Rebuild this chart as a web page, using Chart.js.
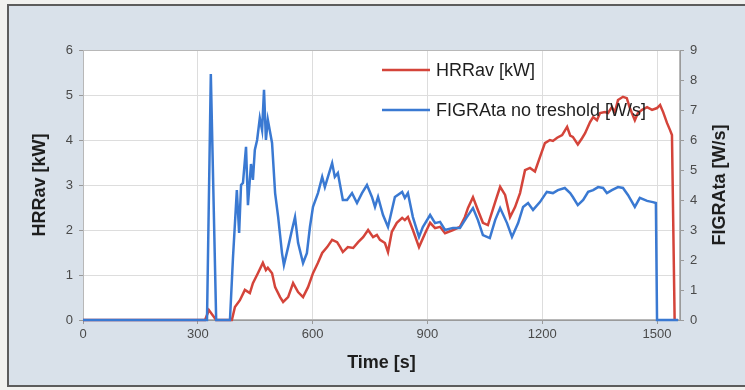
<!DOCTYPE html>
<html><head><meta charset="utf-8">
<script src="https://cdn.jsdelivr.net/npm/chart.js@4.4.0/dist/chart.umd.min.js"></script>
<style>html,body{margin:0;padding:0;background:#fff;overflow:hidden}</style>
</head><body>
<canvas id="c" width="745" height="390"></canvas>
<script>
// ---- data ----
const hrrTime = [0,319,329,348,389,397,410,423,436,444,457,470,478,483,494,502,515,523,536,549,562,575,588,601,614,625,638,651,664,672,679,692,706,719,732,745,758,768,776,789,797,807,820,834,841,849,862,878,894,907,920,933,946,967,985,998,1006,1019,1032,1045,1058,1077,1090,1103,1116,1129,1142,1155,1168,1181,1194,1207,1220,1228,1239,1252,1265,1273,1280,1293,1304,1312,1325,1333,1343,1351,1364,1372,1382,1390,1398,1411,1421,1429,1442,1450,1461,1474,1487,1500,1508,1516,1526,1534,1539,1546];
const hrrKW = [0,0,0.22,0,0,0.29,0.44,0.67,0.6,0.82,1.04,1.27,1.11,1.16,1.04,0.73,0.51,0.4,0.51,0.82,0.62,0.51,0.73,1.04,1.27,1.49,1.62,1.78,1.73,1.62,1.51,1.62,1.6,1.73,1.84,2.0,1.84,1.89,1.78,1.71,1.51,1.96,2.16,2.27,2.22,2.29,2.0,1.62,1.93,2.16,2.04,2.07,1.93,2.0,2.07,2.29,2.49,2.73,2.44,2.16,2.11,2.62,2.96,2.78,2.29,2.51,2.82,3.33,3.38,3.3,3.62,3.93,4.0,3.98,4.05,4.11,4.29,4.1,4.07,3.9,4.04,4.15,4.4,4.51,4.44,4.6,4.62,4.6,4.73,4.62,4.89,4.96,4.93,4.71,4.44,4.6,4.67,4.73,4.67,4.71,4.78,4.62,4.38,4.22,4.11,0];

const figraTime = [0,311,324,334,348,384,392,402,408,413,418,426,431,439,444,449,455,462,468,473,478,483,494,502,510,520,525,536,546,554,562,575,585,593,601,614,625,632,640,651,658,666,679,690,703,716,729,742,755,763,771,784,797,815,834,841,849,862,878,888,907,920,933,946,967,985,993,1003,1019,1032,1045,1063,1077,1090,1108,1121,1137,1150,1163,1176,1194,1212,1228,1241,1259,1273,1280,1293,1307,1320,1333,1346,1359,1369,1382,1398,1411,1424,1442,1455,1474,1489,1497,1500,1555];
const figraWs = [0,0,0,8.2,0,0,2.1,4.33,2.9,4.5,4.57,5.77,3.83,5.2,4.67,5.67,6.0,6.73,6.33,7.67,6.0,6.67,5.9,4.23,3.43,2.23,1.83,2.43,3.0,3.43,2.57,1.9,2.23,3.1,3.77,4.23,4.77,4.43,4.77,5.23,4.77,4.9,4.0,4.0,4.23,3.9,4.23,4.5,4.1,3.77,4.1,3.5,3.1,4.1,4.27,4.07,4.23,3.43,2.77,3.1,3.5,3.23,3.27,3.0,3.07,3.07,3.23,3.43,3.73,3.33,2.83,2.73,3.33,3.73,3.23,2.77,3.23,3.77,3.9,3.67,3.93,4.27,4.23,4.33,4.4,4.23,4.1,3.83,4.0,4.27,4.33,4.43,4.4,4.23,4.33,4.43,4.4,4.17,3.77,4.07,3.97,3.93,3.9,0,0];

const xTicks = [0,300,600,900,1200,1500];
const seriesLabels = ['HRRav [kW]', 'FIGRAta no treshold [W/s]'];
const xTitle = 'Time [s]';
const leftTitle = 'HRRav [kW]';
const rightTitle = 'FIGRAta [W/s]';

// ---- styling ----
const RED = '#d4443a', BLUE = '#3a79d2';
const FONT = '"Liberation Sans", Arial, sans-serif';
const zip = (xs, ys) => xs.slice(0, Math.min(xs.length, ys.length)).map((x, i) => ({x, y: ys[i]}));

const framePlugin = {
  id: 'frame',
  beforeDraw(chart) {
    const ctx = chart.ctx, a = chart.chartArea;
    ctx.save();
    ctx.fillStyle = '#f1f1ef'; ctx.fillRect(0, 0, 745, 390);
    ctx.fillStyle = '#d9e1ea'; ctx.fillRect(8, 5, 737, 381);
    ctx.strokeStyle = '#5c5c5c'; ctx.lineWidth = 2;
    ctx.beginPath(); ctx.moveTo(8, 387); ctx.lineTo(8, 5); ctx.lineTo(745, 5); ctx.stroke();
    ctx.beginPath(); ctx.moveTo(8, 386); ctx.lineTo(745, 386); ctx.stroke();
    ctx.fillStyle = '#ffffff'; ctx.fillRect(a.left, a.top, a.right - a.left, a.bottom - a.top);
    ctx.restore();
  },
  beforeDatasetsDraw(chart) {
    const ctx = chart.ctx, a = chart.chartArea;
    ctx.save();
    ctx.strokeStyle = '#b8b8b8'; ctx.lineWidth = 1;
    ctx.strokeRect(a.left + 0.5, a.top + 0.5, a.right - a.left - 1, a.bottom - a.top - 1);
    ctx.restore();
  },
  afterDatasetsDraw(chart) {
    const ctx = chart.ctx, a = chart.chartArea;
    ctx.save();
    // legend inside plot
    const items = [[seriesLabels[0], RED, 70], [seriesLabels[1], BLUE, 110]];
    ctx.font = '18px ' + FONT; ctx.textBaseline = 'middle'; ctx.textAlign = 'left';
    items.forEach(([t, c, y]) => {
      ctx.strokeStyle = c; ctx.lineWidth = 2.5;
      ctx.beginPath(); ctx.moveTo(382, y); ctx.lineTo(430, y); ctx.stroke();
      ctx.fillStyle = '#1e1e1e'; ctx.fillText(t, 436, y + 1);
    });
    // right axis title (reads bottom-to-top)
    ctx.translate(720, (a.top + a.bottom) / 2);
    ctx.rotate(-Math.PI / 2);
    ctx.font = 'bold 18px ' + FONT; ctx.textAlign = 'center'; ctx.fillStyle = '#1e1e1e';
    ctx.fillText(rightTitle, 0, 0);
    ctx.restore();
  }
};

const tickFont = {family: FONT, size: 13};
new Chart(document.getElementById('c'), {
  type: 'line',
  data: {
    datasets: [
      {label: seriesLabels[0], data: zip(hrrTime, hrrKW), yAxisID: 'y', borderColor: RED, borderWidth: 2.5, pointRadius: 0, tension: 0, order: 1, clip: 4},
      {label: seriesLabels[1], data: zip(figraTime, figraWs), yAxisID: 'y1', borderColor: BLUE, borderWidth: 2.5, pointRadius: 0, tension: 0, order: 0, clip: 4}
    ]
  },
  options: {
    responsive: false, animation: false, devicePixelRatio: 1,
    layout: {padding: {top: 50, left: 0, right: 0, bottom: 0}},
    plugins: {legend: {display: false}, tooltip: {enabled: false}},
    scales: {
      x: {
        type: 'linear', min: 0, max: 1560,
        afterBuildTicks: s => { s.ticks = xTicks.map(v => ({value: v})); },
        afterFit: s => { s.height = 70; },
        grid: {color: '#dddddd', tickLength: 4, tickColor: '#9a9a9a'},
        border: {color: '#9a9a9a'},
        ticks: {font: tickFont, color: '#4a4a4a', padding: 3, maxRotation: 0, callback: v => String(v)},
        title: {display: true, text: xTitle, font: {family: FONT, size: 18, weight: 'bold'}, color: '#1e1e1e', padding: {top: 4, bottom: 16}}
      },
      y: {
        position: 'left', min: 0, max: 6,
        afterFit: s => { s.width = 83; },
        grid: {color: '#dddddd', tickLength: 4, tickColor: '#9a9a9a'},
        border: {color: '#9a9a9a'},
        ticks: {stepSize: 1, font: tickFont, color: '#4a4a4a', padding: 6},
        title: {display: true, text: leftTitle, font: {family: FONT, size: 18, weight: 'bold'}, color: '#1e1e1e', padding: {top: 29, bottom: 0}}
      },
      y1: {
        position: 'right', min: 0, max: 9,
        afterFit: s => { s.width = 65; },
        grid: {drawOnChartArea: false, tickLength: 4, tickColor: '#9a9a9a'},
        border: {color: '#9a9a9a'},
        ticks: {stepSize: 1, font: tickFont, color: '#4a4a4a', padding: 6}
      }
    }
  },
  plugins: [framePlugin]
});
</script>
</body></html>
